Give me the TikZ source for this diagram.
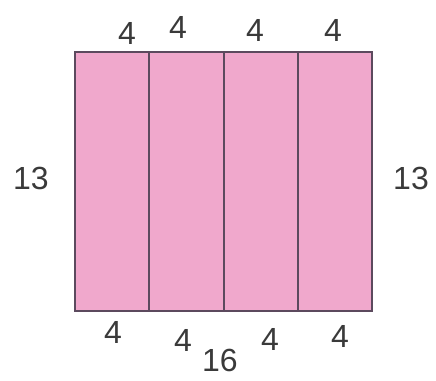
\documentclass[tikz,border=0pt]{standalone}
\usepackage{fontspec}
\setmainfont{Liberation Sans}
\definecolor{pinkfill}{HTML}{F0A8CC}
\definecolor{edgecol}{HTML}{5C4A5E}
\definecolor{inkcol}{HTML}{3A3A3A}
\begin{document}
\begin{tikzpicture}[x=1pt,y=-1pt,
  col/.style={draw=edgecol,line width=2pt,fill=pinkfill},
  lab/.style={text=inkcol,font=\fontsize{32}{32}\selectfont,inner sep=0pt}]
\useasboundingbox (0,0) rectangle (436,380);
\fill[white] (0,0) rectangle (436,380);
\coordinate (c0t) at (75,52); \coordinate (c1b) at (149,311);
\coordinate (c1t) at (149,52); \coordinate (c2b) at (224,311);
\coordinate (c2t) at (224,52); \coordinate (c3b) at (298,311);
\coordinate (c3t) at (298,52); \coordinate (c4b) at (372,311);
\draw[col] (c0t) rectangle (c1b);
\draw[col] (c1t) rectangle (c2b);
\draw[col] (c2t) rectangle (c3b);
\draw[col] (c3t) rectangle (c4b);
\node[lab] (t1) at (127,33) {4};
\node[lab] (t2) at (178,27) {4};
\node[lab] (t3) at (255,30) {4};
\node[lab] (t4) at (333,30) {4};
\node[lab] (b1) at (113,332) {4};
\node[lab] (b2) at (183,340) {4};
\node[lab] (b3) at (270,339) {4};
\node[lab] (b4) at (340,336) {4};
\node[lab] (bt) at (220,360) {16};
\node[lab] (l) at (31,178) {13};
\node[lab] (r) at (411,178) {13};
\end{tikzpicture}
\end{document}
